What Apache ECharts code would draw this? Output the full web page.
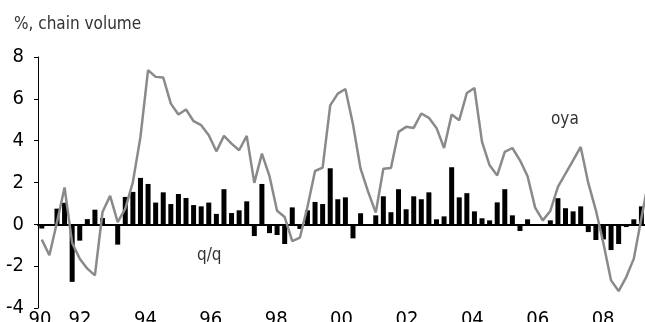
<!DOCTYPE html>
<html>
<head>
<meta charset="utf-8">
<script src="https://cdn.jsdelivr.net/npm/echarts@6/dist/echarts.min.js"></script>
<style>
  html, body { margin: 0; padding: 0; background: #fff; }
  #chart { width: 645px; height: 322px; }
</style>
</head>
<body>
<div id="chart"></div>
<script>
// Quarterly categories 1990Q1 .. 2010Q1
const categories = [];
for (let y = 1990; y <= 2010; y++) {
  for (let q = 1; q <= 4; q++) {
    if (categories.length < 81) categories.push(y + 'Q' + q);
  }
}

// q/q % change (bars)
const qoq = [
  -0.2, 0.0, 0.75, 1.03, -2.75, -0.78, 0.25, 0.7,
  0.3, 0.0, -0.97, 1.31, 1.55, 2.22, 1.93, 1.04,
  1.53, 0.97, 1.45, 1.26, 0.92, 0.86, 1.04, 0.5,
  1.68, 0.54, 0.67, 1.1, -0.56, 1.93, -0.42, -0.51,
  -0.94, 0.81, -0.22, 0.67, 1.07, 0.97, 2.68, 1.2,
  1.29, -0.67, 0.53, 0.0, 0.43, 1.34, 0.58, 1.68,
  0.72, 1.34, 1.2, 1.53, 0.24, 0.38, 2.73, 1.29,
  1.49, 0.62, 0.29, 0.19, 1.05, 1.68, 0.43, -0.32,
  0.24, 0.0, 0.0, 0.19, 1.25, 0.77, 0.62, 0.86,
  -0.37, -0.75, -0.72, -1.23, -0.94, -0.13, 0.24, 0.86,
  null
];

// oya % change (line)
const oya = [
  -0.73, -1.48, 0.1, 1.76, -0.89, -1.64, -2.12, -2.44,
  0.59, 1.36, 0.11, 0.75, 2.02, 4.18, 7.37, 7.05,
  7.02, 5.77, 5.25, 5.49, 4.93, 4.74, 4.26, 3.49,
  4.23, 3.86, 3.54, 4.23, 1.98, 3.38, 2.30, 0.65,
  0.35, -0.80, -0.64, 0.83, 2.55, 2.71, 5.69, 6.25,
  6.47, 4.78, 2.66, 1.55, 0.56, 2.66, 2.69, 4.42,
  4.66, 4.61, 5.30, 5.09, 4.61, 3.65, 5.25, 4.98,
  6.28, 6.52, 3.94, 2.82, 2.34, 3.46, 3.65, 3.06,
  2.30, 0.80, 0.19, 0.64, 1.79, 2.43, 3.06, 3.70,
  1.98, 0.67, -0.92, -2.68, -3.19, -2.52, -1.64, 0.3,
  2.2
];

// x tick labels and the years they stand for
const tickYears = [90, 92, 94, 96, 98, 100, 102, 104, 106, 108];
const tickLabels = ['90', '92', '94', '96', '98', '00', '02', '04', '06', '08'];

// y axis
const yMin = -4, yMax = 8, yStep = 2;

const FONT = '"Liberation Sans Narrow", "DejaVu Sans Condensed", "Liberation Sans", sans-serif';

const labelAxisMin = 90.715, labelAxisMax = 109.52;
const tickPos = tickYears.map(y => Math.max(y, labelAxisMin + 0.06));

const chart = echarts.init(document.getElementById('chart'), null, { renderer: 'canvas' });
chart.setOption({
  animation: false,
  backgroundColor: '#ffffff',
  title: {
    text: '%, chain volume',
    left: 9, top: 11,
    textStyle: { fontFamily: FONT, fontSize: 17, fontWeight: 'normal', color: '#333333' }
  },
  grid: { left: 38, right: -7.8, top: 57, bottom: 14, containLabel: false, outerBoundsMode: 'none' },
  xAxis: [
    {
      type: 'category',
      data: categories,
      boundaryGap: true,
      axisLine: { onZero: true, lineStyle: { color: '#000', width: 2 } },
      axisTick: { show: false },
      axisLabel: { show: false },
      splitLine: { show: false }
    },
    {
      type: 'value',
      position: 'bottom',
      min: labelAxisMin,
      max: labelAxisMax,
      axisLine: { show: false, onZero: false },
      axisTick: { show: false },
      splitLine: { show: false },
      axisLabel: {
        customValues: tickPos,
        margin: 2,
        fontFamily: FONT,
        fontSize: 20,
        color: '#000',
        formatter: function (v) {
          let best = 0, d = Infinity;
          tickPos.forEach((p, i) => { if (Math.abs(p - v) < d) { d = Math.abs(p - v); best = i; } });
          return tickLabels[best];
        }
      }
    }
  ],
  yAxis: {
    type: 'value',
    min: yMin, max: yMax, interval: yStep,
    axisLine: { show: true, lineStyle: { color: '#000', width: 1 } },
    axisTick: { show: true, length: 4, lineStyle: { color: '#000' } },
    splitLine: { show: false },
    axisLabel: { fontFamily: FONT, fontSize: 20, color: '#000', margin: 14 }
  },
  series: [
    {
      name: 'q/q',
      type: 'bar',
      data: qoq,
      barWidth: 5,
      itemStyle: { color: '#000' }
    },
    {
      name: 'oya',
      type: 'line',
      data: oya,
      symbol: 'none',
      lineStyle: { color: '#8a8a8a', width: 2.5 },
      itemStyle: { color: '#8a8a8a' }
    }
  ],
  graphic: [
    { type: 'text', left: 197, top: 247, style: { text: 'q/q', font: '17px ' + FONT, fill: '#333333' } },
    { type: 'text', left: 551, top: 111, style: { text: 'oya', font: '17px ' + FONT, fill: '#333333' } }
  ]
});
</script>
</body>
</html>
